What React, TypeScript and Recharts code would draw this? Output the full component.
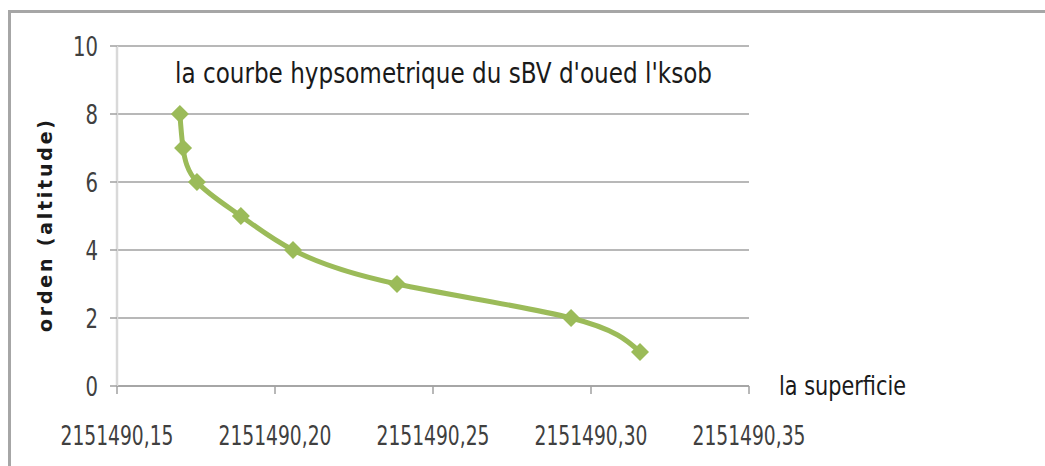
import React from 'react';
import { ScatterChart, Scatter, XAxis, YAxis, CartesianGrid } from 'recharts';

const superficie = [
  2151490.1699, 2151490.1709, 2151490.1753, 2151490.1892,
  2151490.2057, 2151490.2386, 2151490.2937, 2151490.3155,
];
const altitude = [8, 7, 6, 5, 4, 3, 2, 1];
const xTicks = [2151490.15, 2151490.2, 2151490.25, 2151490.3, 2151490.35];
const yTicks = [0, 2, 4, 6, 8, 10];

const title = "la courbe hypsometrique du sBV d'oued l'ksob";
const xTitle = 'la superficie';
const yTitle = 'orden (altitude)';

const data = superficie.map((x, i) => ({ x, y: altitude[i] }));

const GREEN = '#9BBB59';
const FONT = "'DejaVu Sans', sans-serif";

const Diamond = (props: any) => {
  const { cx, cy } = props;
  const r = 9;
  return (
    <polygon
      points={`${cx},${cy - r} ${cx + r},${cy} ${cx},${cy + r} ${cx - r},${cy}`}
      fill={GREEN}
    />
  );
};

const fmt = (v: number) => v.toFixed(2).replace('.', ',');

// tick labels squeezed to look like the narrow office font
const XTick = (props: any) => {
  const { x, y, payload } = props;
  const label = fmt(payload.value);
  return (
    <text
      x={x}
      y={y}
      dy="0.71em"
      textAnchor="middle"
      fill="#404040"
      fontSize={27}
      fontFamily={FONT}
      style={{ fontStretch: 'condensed' }}
      textLength={113}
      lengthAdjust="spacingAndGlyphs"
    >
      {label}
    </text>
  );
};

const YTick = (props: any) => {
  const { x, y, payload } = props;
  const label = String(payload.value);
  return (
    <text
      x={x}
      y={y}
      dy="0.36em"
      textAnchor="end"
      fill="#404040"
      fontSize={27}
      fontFamily={FONT}
      style={{ fontStretch: 'condensed' }}
      textLength={label.length * 12.5}
      lengthAdjust="spacingAndGlyphs"
    >
      {label}
    </text>
  );
};

const App: React.FC = () => {
  return (
    <div style={{ position: 'absolute', left: 0, top: 0, width: 1045, height: 466, background: '#fff' }}>
      <div
        style={{
          position: 'absolute',
          left: 8,
          top: 10,
          right: 0,
          bottom: 0,
          borderTop: '3px solid #a6a6a6',
          borderLeft: '3px solid #a6a6a6',
        }}
      />
      <ScatterChart
        width={1045}
        height={466}
        margin={{ top: 46, right: 296, bottom: 20, left: 57 }}
        style={{ position: 'absolute', left: 0, top: 0 }}
      >
        <CartesianGrid vertical={false} stroke="#a0a0a0" strokeWidth={1.5} />
        <XAxis
          type="number"
          dataKey="x"
          domain={[2151490.15, 2151490.35]}
          ticks={xTicks}
          height={60}
          axisLine={{ stroke: '#a0a0a0', strokeWidth: 1.5 }}
          tickLine={{ stroke: '#a0a0a0', strokeWidth: 1.5 }}
          tickSize={8}
          tickMargin={32}
          tick={<XTick />}
          interval={0}
        />
        <YAxis
          type="number"
          dataKey="y"
          domain={[0, 10]}
          ticks={yTicks}
          width={60}
          axisLine={{ stroke: '#d9d9d9', strokeWidth: 2.5 }}
          tickLine={{ stroke: '#a0a0a0', strokeWidth: 1.5 }}
          tickSize={7}
          tickMargin={12}
          tick={<YTick />}
          interval={0}
        />
        <Scatter
          data={data}
          line={{ stroke: GREEN, strokeWidth: 5 }}
          lineType="joint"
          lineJointType="natural"
          shape={<Diamond />}
          isAnimationActive={false}
        />
      </ScatterChart>
      <svg
        width={1045}
        height={466}
        style={{ position: 'absolute', left: 0, top: 0, pointerEvents: 'none' }}
      >
        <text
          x={175}
          y={83}
          fontSize={29}
          fontFamily={FONT}
          style={{ fontStretch: 'condensed' }}
          fill="#1a1a1a"
          textLength={537}
          lengthAdjust="spacingAndGlyphs"
        >
          {title}
        </text>
        <text
          x={779}
          y={395}
          fontSize={27}
          fontFamily={FONT}
          style={{ fontStretch: 'condensed' }}
          fill="#1a1a1a"
          textLength={127}
          lengthAdjust="spacingAndGlyphs"
        >
          {xTitle}
        </text>
        <text
          x={0}
          y={0}
          transform="translate(52, 226) rotate(-90)"
          textAnchor="middle"
          fontSize={19}
          fontWeight="bold"
          fontFamily={FONT}
          fill="#1a1a1a"
          textLength={212}
          lengthAdjust="spacing"
        >
          {yTitle}
        </text>
      </svg>
    </div>
  );
};

export default App;
